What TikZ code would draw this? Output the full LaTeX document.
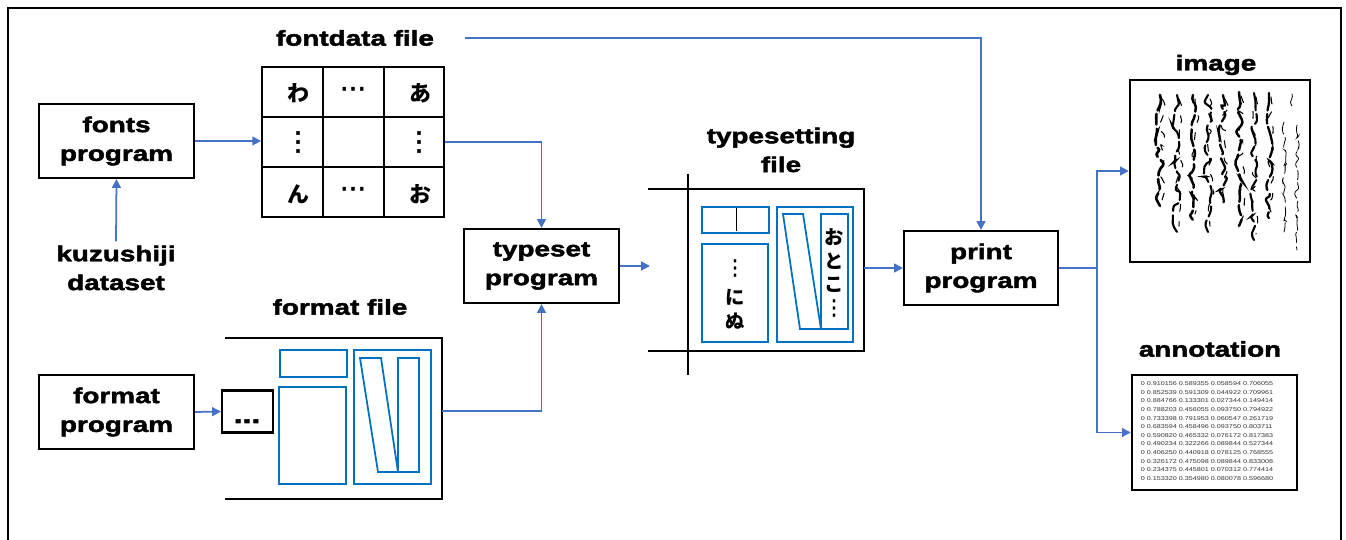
\documentclass[tikz,border=0pt]{standalone}
\usepackage{fontspec}
\setmainfont{Liberation Sans}[FakeStretch=1.28]
\newfontfamily\heavyfont{Liberation Sans Bold}[FakeStretch=1.3, FakeBold=2.2]
\newfontfamily\jpfont{Noto Sans CJK JP}
\newfontfamily\symfont{DejaVu Sans}[FakeBold=1.5]
\usetikzlibrary{arrows.meta,decorations.pathmorphing}

\definecolor{linkblue}{HTML}{4472C4}
\definecolor{boxblue}{HTML}{0070C0}
\newcommand{\lblfont}{\fontsize{12.2}{16.4}\selectfont\heavyfont}
\newcommand{\jpchar}{\fontsize{12.5}{13}\selectfont\jpfont\bfseries}
\newcommand{\jpvert}{\fontsize{11}{12}\selectfont\jpfont\bfseries}
\newcommand{\dotfont}{\fontsize{15}{15}\selectfont\symfont}

\tikzset{
  prog/.style={draw=black, line width=1.2pt, minimum width=3.1cm,
    minimum height=1.48cm, align=center, inner sep=0pt, font=\lblfont},
  lbl/.style={align=center, inner sep=0pt, font=\lblfont},
  frame/.style={black, line width=1.2pt},
  blk/.style={boxblue, line width=1pt},
  link/.style={linkblue, line width=1pt},
  arr/.style={linkblue, line width=1pt, -{Triangle[length=5pt,width=5pt]}},
  cell/.style={inner sep=0pt, font=\jpchar},
  vchar/.style={inner sep=0pt, font=\jpvert},
  brush/.style={decorate, decoration={random steps, segment length=4pt, amplitude=2.6pt},
    rounded corners=1.2pt, dash pattern=on 10pt off 2pt on 6pt off 2.5pt, line cap=round},
}

\begin{document}
\begin{tikzpicture}[x=0.02cm,y=-0.02cm]
  \useasboundingbox (0,0) rectangle (1346,540);
  % outer frame, open at the bottom
  \draw[black, line width=0.9pt] (8,540) -- (8,8) -- (1341,8) -- (1341,540);

  % programs
  \node[prog] (fonts) at (116.5,141) {fonts\\program};
  \node[prog] (fmtprog) at (116.5,412) {format\\program};
  \node[prog] (typeset) at (541.5,266) {typeset\\program};
  \node[prog, minimum width=3.08cm] (print) at (981,268) {print\\program};

  \node[lbl] (kuzu) at (116,268) {kuzushiji\\dataset};
  \node[lbl] (fdlabel) at (355,38) {fontdata file};
  \node[lbl] (fflabel) at (340,307) {format file};
  \node[lbl] (tslabel) at (781,150) {typesetting\\file};
  \node[lbl] (imglabel) at (1216,65) {image};
  \node[lbl] (annlabel) at (1210,349) {annotation};

  % fontdata grid
  \node[draw, line width=1pt, minimum width=3.64cm, minimum height=3cm, inner sep=0pt] (grid) at (353,142) {};
  \draw[line width=1pt] (323,67) -- (323,217) (384,67) -- (384,217)
    (262,117) -- (444,117) (262,167) -- (444,167);
  \node[cell] (c11) at (298,93) {わ};
  \node[cell, font=\dotfont] (c12) at (353,92) {⋯};
  \node[cell] (c13) at (420,93) {あ};
  \node[cell, font=\dotfont] (c21) at (298,142) {⋮};
  \node[cell, font=\dotfont] (c23) at (419,142) {⋮};
  \node[cell] (c31) at (298,194) {ん};
  \node[cell, font=\dotfont] (c32) at (353,192) {⋯};
  \node[cell] (c33) at (420,194) {お};

  % format file
  \draw[frame] (225,338) -- (442,338) -- (442,499) -- (225,499);
  \coordinate (fmtR) at (442,411);
  \node[draw, line width=1.2pt, minimum width=1.02cm, minimum height=0.84cm] (dots) at (247.5,411.5) {};
  \node[inner sep=0pt, anchor=base, font=\fontsize{14}{14}\selectfont\heavyfont] (dotstxt) at (247,423) {...};
  \draw[blk] (280,350) rectangle (347,377);
  \draw[blk] (279,387) rectangle (346,484);
  \draw[blk] (354,350) rectangle (431,484);
  \draw[blk] (360,358) -- (381,358) -- (398,472) -- (378,472) -- cycle;
  \draw[blk] (398,358) rectangle (419,472);

  % typesetting file
  \draw[frame] (688,174) -- (688,375);
  \draw[frame] (648,189) -- (864,189) -- (864,351) -- (648,351);
  \coordinate (tsL) at (650,268);
  \coordinate (tsR) at (864,268);
  \draw[blk] (702,207) rectangle (769,233);
  \draw[black, line width=0.5pt] (736,208) -- (736,231);
  \draw[blk] (702,244) rectangle (768,342);
  \draw[blk] (777,207) rectangle (853,342);
  \draw[blk] (783,214) -- (803,214) -- (821,329) -- (800,329) -- cycle;
  \draw[blk] (821,214) rectangle (848,329);
  \node[vchar, font=\symfont\fontsize{12}{12}\selectfont] (v1) at (735,268) {⋮};
  \node[vchar] (v2) at (735,297) {に};
  \node[vchar] (v3) at (735,321) {ぬ};
  \node[vchar] (w1) at (834,237) {お};
  \node[vchar] (w2) at (834,261) {と};
  \node[vchar] (w3) at (834,285) {こ};
  \node[vchar, font=\symfont\fontsize{12}{12}\selectfont] (w4) at (834,308) {⋮};

  % image
  \node[draw, line width=1.4pt, minimum width=3.6cm, minimum height=3.64cm] (image) at (1220,171) {};
  \pgfmathsetseed{11}
  \foreach \cx/\ya/\yb/\lw in {1269/93/218/1.3, 1254/93/240/1.2, 1239/92/226/1.4, 1223/95/204/1.3,
      1208/95/232/1.2, 1193/95/220/1.4, 1177/95/232/1.2, 1160/95/206/1.5}{
    \draw[brush, line width=\lw pt] (\cx,\ya) -- (\cx,\yb);
    \draw[brush, line width=0.6pt, dash pattern=on 4pt off 6pt] (\cx+2,\ya+4) -- (\cx+2,\yb-6);
  }
  % small side notes
  \foreach \cx/\ya/\yb in {1297/125/250, 1292/94/106, 1284/122/232}
    \draw[brush, line width=0.45pt, decoration={amplitude=1.4pt, segment length=2.5pt}] (\cx,\ya) -- (\cx,\yb);

  % annotation
  \node[draw, line width=1.4pt, minimum width=3.3cm, minimum height=2.3cm] (annot) at (1214.5,432.5) {};
  \node[align=left, inner sep=0pt, text=black!80, font=\fontsize{3.2}{4.9}\selectfont] (anntxt) at (1207,431) {%
    0 0.910156 0.589355 0.058594 0.706055\\
    0 0.852539 0.591309 0.044922 0.709961\\
    0 0.884766 0.133301 0.027344 0.149414\\
    0 0.788203 0.456055 0.093750 0.794922\\
    0 0.733398 0.791953 0.060547 0.261719\\
    0 0.683594 0.458496 0.093750 0.803711\\
    0 0.590820 0.465332 0.076172 0.817383\\
    0 0.490234 0.322266 0.089844 0.527344\\
    0 0.406250 0.440918 0.078125 0.768555\\
    0 0.326172 0.475098 0.089844 0.833008\\
    0 0.234375 0.445801 0.070312 0.774414\\
    0 0.153320 0.354980 0.080078 0.596680};

  % connectors
  \draw[arr] (kuzu.north) ++(0,-4) -- (fonts.south);
  \draw[arr] (fonts.east) -- (fonts.east -| grid.west);
  \draw[arr] (grid.east) -| (typeset.north);
  \draw[arr] (fmtprog.east) -- (dots.west);
  \draw[arr] (fmtR) -| (typeset.south);
  \draw[arr] (typeset.east) -- (typeset.east -| tsL);
  \draw[arr] (tsR) -- (print.west);
  \draw[arr, shorten <=0.62cm] (fdlabel.east) -| (print.north);
  \coordinate (split) at (1097,268);
  \draw[link] (print.east) -- (split);
  \draw[arr] (split) |- (image.west);
  \draw[arr] (split) |- (annot.west);
\end{tikzpicture}
\end{document}
